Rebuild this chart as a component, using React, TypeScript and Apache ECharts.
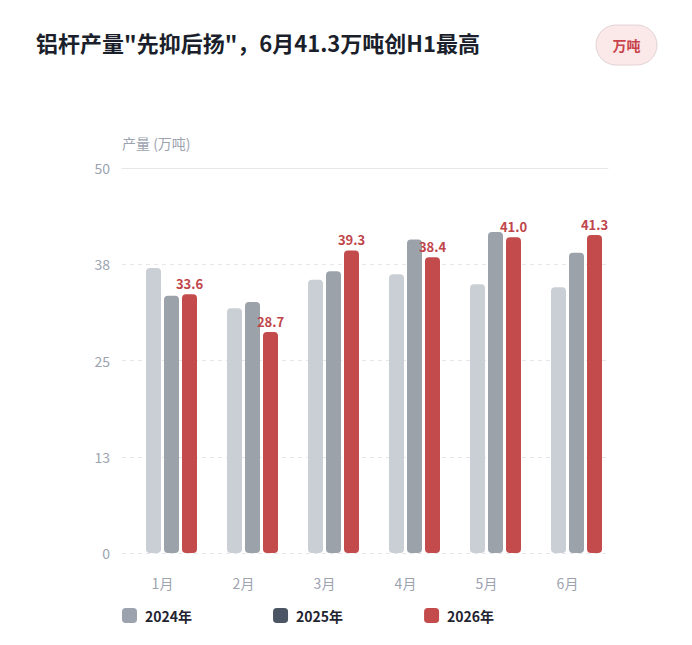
import React, { useEffect, useRef } from "react";
import * as echarts from "echarts";

const categories = ["1月", "2月", "3月", "4月", "5月", "6月"];
const seriesNames = ["2024年", "2025年", "2026年"];
const values2024 = [37.0, 31.8, 35.5, 36.2, 34.9, 34.5];
const values2025 = [33.4, 32.6, 36.6, 40.7, 41.7, 39.0];
const values2026 = [33.6, 28.7, 39.3, 38.4, 41.0, 41.3];
const titleText = "铝杆产量\"先抑后扬\"，6月41.3万吨创H1最高";
const unitText = "万吨";
const yAxisName = "产量 (万吨)";

const FONT = "'Noto Sans CJK SC', 'Noto Sans', sans-serif";

export default function App() {
  const ref = useRef<HTMLDivElement>(null);
  useEffect(() => {
    document.body.style.margin = "0";
    const chart = echarts.init(ref.current!, null, { renderer: "svg" });
    const barColors = ["#caced5", "#9ca2aa", "#c44b4b"];
    const legendColors = ["#9ca3af", "#4b5563", "#c44b4b"];
    const data = [values2024, values2025, values2026];
    const placeholder = {
      name: "_slot",
      type: "bar",
      data: [] as number[],
      barWidth: 15,
      barGap: "20%",
      silent: true,
    };
    chart.setOption({
      animation: false,
      textStyle: { fontFamily: FONT },
      graphic: [
        {
          type: "text",
          x: 36,
          y: 42,
          style: {
            text: titleText,
            font: `bold 22px ${FONT}`,
            fill: "#1a1f2b",
            verticalAlign: "middle",
          },
        },
        {
          type: "group",
          x: 596,
          y: 25,
          children: [
            {
              type: "rect",
              shape: { x: 0, y: 0, width: 61, height: 40, r: 20 },
              style: { fill: "#fbe8e8", stroke: "#e2d3d6", lineWidth: 1 },
            },
            {
              type: "text",
              x: 30.5,
              y: 20,
              style: {
                text: unitText,
                font: `bold 14px ${FONT}`,
                fill: "#c8424a",
                align: "center",
                verticalAlign: "middle",
              },
            },
          ],
        },
      ],
      grid: { left: 122, right: 84, top: 168, bottom: 92, containLabel: false },
      legend: {
        left: 122,
        top: 608,
        padding: 0,
        itemWidth: 15,
        itemHeight: 15,
        itemGap: 81,
        icon: "roundRect",
        textStyle: {
          fontSize: 14,
          fontWeight: "bold",
          color: "#1f2430",
          fontFamily: FONT,
          padding: [0, 0, 0, 3],
        },
        data: seriesNames.map((n, i) => ({ name: n, itemStyle: { color: legendColors[i], opacity: 1 } })),
      },
      xAxis: [
        {
          type: "category",
          data: categories,
          axisLine: { show: false },
          axisTick: { show: false },
          axisLabel: { color: "#9ca3af", fontSize: 14, margin: 23, fontFamily: FONT },
        },
        {
          type: "category",
          position: "top",
          data: categories,
          axisLine: { show: true, lineStyle: { color: "#e5e7eb", width: 1 } },
          axisTick: { show: false },
          axisLabel: { show: false },
        },
      ],
      yAxis: {
        type: "value",
        min: 0,
        max: 50,
        interval: 12.5,
        name: yAxisName,
        nameLocation: "end",
        nameGap: 18,
        nameTextStyle: { color: "#9ca3af", fontSize: 14, align: "left", fontFamily: FONT },
        axisLine: { show: false },
        axisTick: { show: false },
        axisLabel: {
          color: "#9ca3af",
          fontSize: 14,
          margin: 12,
          fontFamily: FONT,
          formatter: (v: number) => String(Math.round(v)),
        },
        splitLine: { lineStyle: { color: "#e5e7eb", type: [4, 4], width: 1 } },
      },
      series: [
        placeholder,
        ...seriesNames.map((n, i) => ({
          name: n,
          type: "bar",
          data: data[i],
          barWidth: 15,
          barGap: "20%",
          itemStyle: { color: barColors[i], borderRadius: 4 },
          label:
            i === 2
              ? {
                  show: true,
                  position: "top",
                  distance: 4,
                  color: "#c0454a",
                  fontSize: 13,
                  fontWeight: "bold",
                  fontFamily: FONT,
                  formatter: (p: any) => p.value.toFixed(1),
                }
              : { show: false },
        })),
      ],
    });
    return () => chart.dispose();
  }, []);
  return <div ref={ref} style={{ width: 692, height: 645 }} />;
}
